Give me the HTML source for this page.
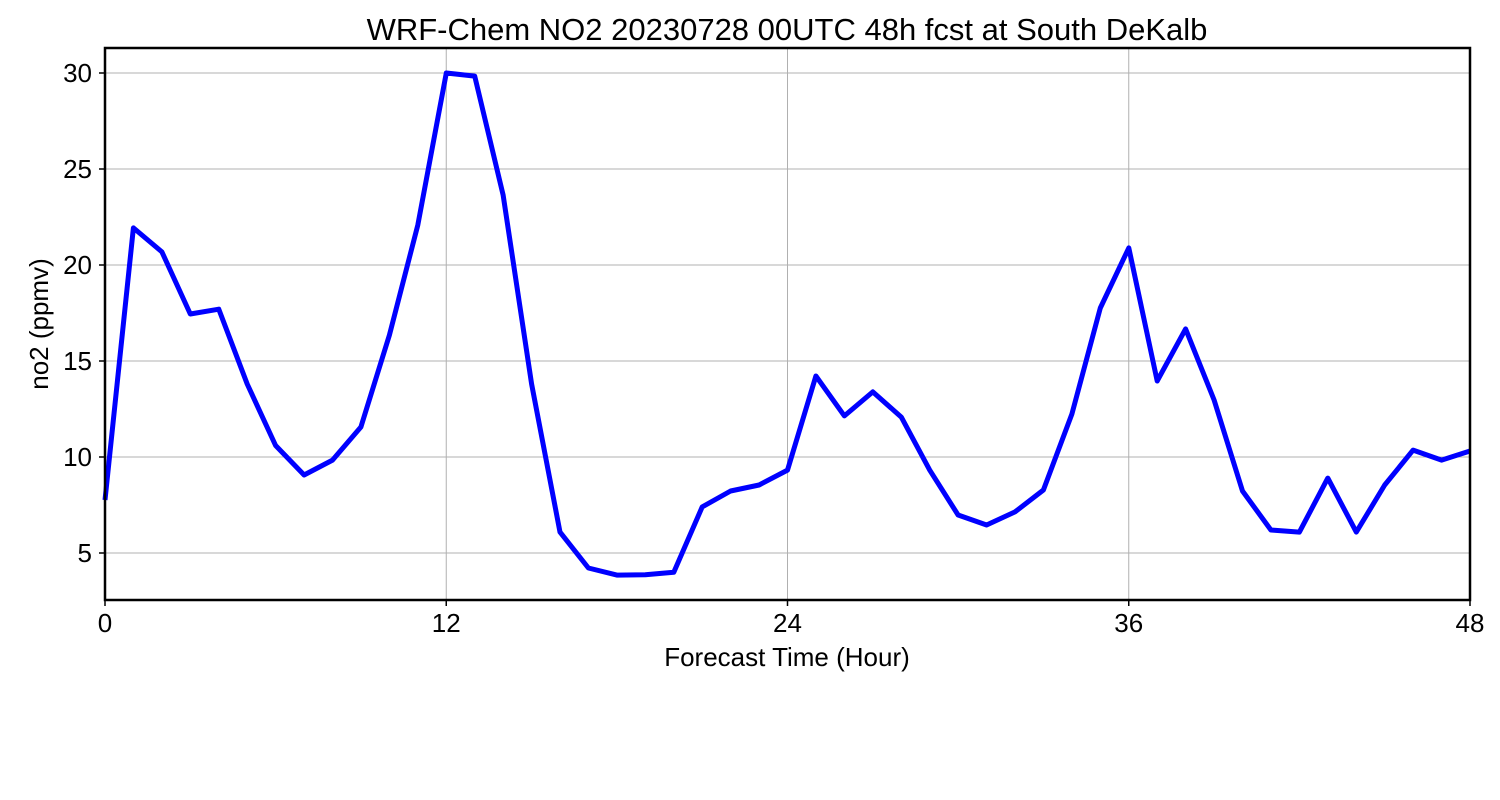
<!DOCTYPE html>
<html><head><meta charset="utf-8"><style>
body{margin:0;background:#fff;}
svg{display:block;font-family:"Liberation Sans","DejaVu Sans",sans-serif;}
</style></head><body>
<svg id="chart" width="1500" height="800">
<rect width="1500" height="800" fill="#fff"/>
<text x="787" y="40" font-size="31" text-anchor="middle">WRF-Chem NO2  20230728 00UTC 48h fcst at South DeKalb</text>
<g id="grid"></g>
<g id="ticks"></g>
<g id="series"></g>
<rect x="105" y="48" width="1365" height="552" fill="none" stroke="#000" stroke-width="2.5"/>
<text x="787" y="666" font-size="26" text-anchor="middle">Forecast Time (Hour)</text>
<text transform="translate(48,324) rotate(-90)" font-size="26" text-anchor="middle">no2  (ppmv)</text>
</svg>
<script>
const hours = [0,1,2,3,4,5,6,7,8,9,10,11,12,13,14,15,16,17,18,19,20,21,22,23,24,25,26,27,28,29,30,31,32,33,34,35,36,37,38,39,40,41,42,43,44,45,46,47,48];
const no2 = [7.76,21.93,20.68,17.45,17.7,13.8,10.6,9.06,9.84,11.56,16.35,22.08,30.0,29.84,23.65,13.8,6.09,4.22,3.85,3.87,4.0,7.4,8.23,8.54,9.32,14.22,12.14,13.39,12.08,9.32,6.98,6.46,7.14,8.28,12.24,17.76,20.89,13.96,16.67,12.97,8.23,6.2,6.09,8.9,6.09,8.54,10.36,9.84,10.31];
const xTicks = [0,12,24,36,48];
const yTicks = [5,10,15,20,25,30];
const NS="http://www.w3.org/2000/svg";
const X0=105,X1=1470,Y0=600,Y1=48;
const xMin=0,xMax=48,yMin=2.55,yMax=31.3;
function xs(v){return X0+(v-xMin)/(xMax-xMin)*(X1-X0);}
function ys(v){return 73+(30-v)*19.2;}
function mk(tag,attrs,parent){const e=document.createElementNS(NS,tag);for(const k in attrs)e.setAttribute(k,attrs[k]);parent.appendChild(e);return e;}
const grid=document.getElementById('grid'),ticks=document.getElementById('ticks'),series=document.getElementById('series');
xTicks.forEach(t=>{
  const l=mk('line',{x1:xs(t),x2:xs(t),y1:Y1,y2:Y0,stroke:'#b0b0b0','stroke-width':1},grid);
  
  
  const tk=mk('line',{x1:xs(t),x2:xs(t),y1:Y0,y2:Y0+6,stroke:'#000','stroke-width':1.5},ticks);
  
  
  const tx=mk('text',{x:xs(t),y:632,'font-size':26,'text-anchor':'middle'},ticks);
  tx.textContent=t;
  
  
});
yTicks.forEach(t=>{
  const l=mk('line',{x1:X0,x2:X1,y1:ys(t),y2:ys(t),stroke:'#b0b0b0','stroke-width':1},grid);
  
  
  const tk=mk('line',{x1:X0-6,x2:X0,y1:ys(t),y2:ys(t),stroke:'#000','stroke-width':1.5},ticks);
  
  
  const tx=mk('text',{x:92,y:ys(t)+9,'font-size':26,'text-anchor':'end'},ticks);
  tx.textContent=t;
  
  
});
const pts=hours.map((h,i)=>xs(h).toFixed(1)+','+ys(no2[i]).toFixed(1)).join(' ');
const pl=mk('polyline',{points:pts,fill:'none',stroke:'#0000ff','stroke-width':5,'stroke-linejoin':'round'},series);


</script>
</body></html>
